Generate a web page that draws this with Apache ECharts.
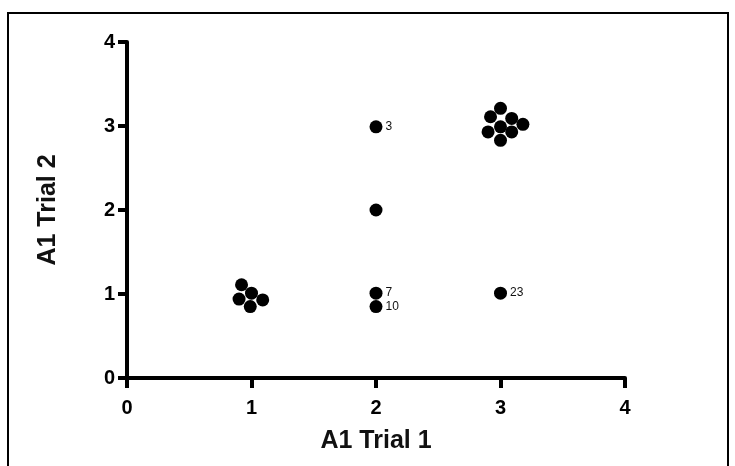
<!DOCTYPE html>
<html>
<head>
<meta charset="utf-8">
<script src="https://cdn.jsdelivr.net/npm/echarts@6/dist/echarts.min.js"></script>
<style>
  html, body { margin: 0; padding: 0; background: #fff; }
  #chart { width: 735px; height: 466px; }
</style>
</head>
<body>
<div id="chart"></div>
<script>
// A1 Trial 1 / A1 Trial 2 (points are jittered as drawn in the picture)
const trial1 = [0.92, 1.00, 0.90, 1.09, 0.99,
                2.00, 2.00, 2.00, 2.00, 3.00,
                3.00, 2.92, 3.09, 3.18, 3.00, 2.90, 3.09, 3.00];
const trial2 = [1.11, 1.01, 0.94, 0.93, 0.85,
                2.99, 2.00, 1.01, 0.85, 1.01,
                3.21, 3.11, 3.09, 3.02, 2.99, 2.93, 2.93, 2.83];
const pointLabels = ['', '', '', '', '',
                     '3', '', '7', '10', '23',
                     '', '', '', '', '', '', '', ''];
const ticks = [0, 1, 2, 3, 4];

let points = [];
for (let i = 0; i < trial1.length; i++) {
    points.push({ value: [trial1[i], trial2[i]], name: pointLabels[i] });
}

var myChart = echarts.init(document.getElementById('chart'));

var axisFont = { fontFamily: 'Liberation Sans', fontWeight: 'bold', fontSize: 20, color: '#000' };

var option = {
    backgroundColor: '#fff',
    animation: false,
    graphic: [{
        type: 'rect',
        shape: { x: 8, y: 13, width: 720, height: 470 },
        style: { fill: 'none', stroke: '#000', lineWidth: 2 }
    }],
    grid: { left: 127, right: 110, top: 42, bottom: 88 },
    xAxis: {
        type: 'value',
        min: ticks[0],
        max: ticks[ticks.length - 1],
        interval: 1,
        name: 'A1 Trial 1',
        nameLocation: 'middle',
        nameGap: 51,
        nameTextStyle: { fontFamily: 'Liberation Sans', fontWeight: 'bold', fontSize: 25, color: '#111' },
        axisLine: { show: true, lineStyle: { color: '#000', width: 4 } },
        axisTick: { show: true, inside: false, length: 10, lineStyle: { color: '#000', width: 4 } },
        axisLabel: Object.assign({ margin: 20 }, axisFont),
        splitLine: { show: false }
    },
    yAxis: {
        type: 'value',
        min: ticks[0],
        max: ticks[ticks.length - 1],
        interval: 1,
        name: 'A1 Trial 2',
        nameLocation: 'middle',
        nameGap: 66,
        nameRotate: 90,
        nameTextStyle: { fontFamily: 'Liberation Sans', fontWeight: 'bold', fontSize: 25, color: '#111' },
        axisLine: { show: true, lineStyle: { color: '#000', width: 4 } },
        axisTick: { show: true, inside: false, length: 9, lineStyle: { color: '#000', width: 4 } },
        axisLabel: Object.assign({ margin: 12 }, axisFont),
        splitLine: { show: false }
    },
    series: [{
        type: 'scatter',
        data: points,
        symbol: 'circle',
        symbolSize: 13,
        itemStyle: { color: '#000', opacity: 1 },
        label: {
            show: true,
            position: 'right',
            distance: 3,
            formatter: function (p) { return p.name; },
            fontFamily: 'Liberation Sans',
            fontSize: 12,
            color: '#111'
        }
    }]
};

myChart.setOption(option);
</script>
</body>
</html>
